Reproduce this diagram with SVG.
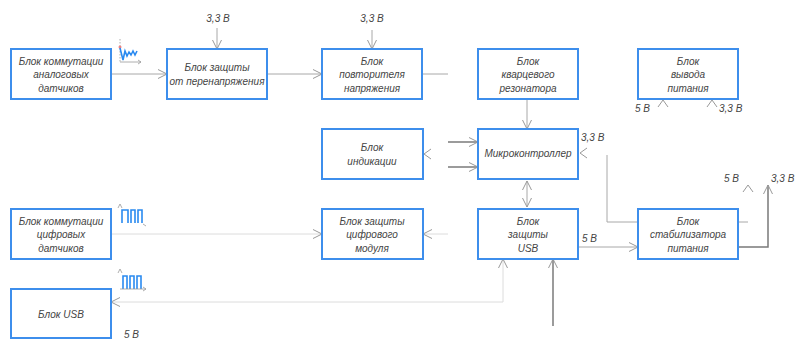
<svg xmlns="http://www.w3.org/2000/svg" width="796" height="340" viewBox="0 0 796 340">
<defs>
<style>
.box{fill:#fff;stroke:#3d8eec;stroke-width:2}
.t{font-family:"Liberation Sans",Arial,sans-serif;font-style:italic;font-size:10px;fill:#444;text-anchor:middle}
.l{font-family:"Liberation Sans",Arial,sans-serif;font-style:italic;font-size:10px;fill:#444}
.c{fill:none;stroke:#a8a8a8;stroke-width:1}
.cl{fill:none;stroke:#dcdcdc;stroke-width:1}
.cd{fill:none;stroke:#7a7a7a;stroke-width:1.5}
.ch{fill:none;stroke:#999;stroke-width:1}
.sig{fill:none;stroke:#2a8af0;stroke-width:1.6}
.ax{fill:none;stroke:#999;stroke-width:0.8}
</style>
<marker id="a" viewBox="0 0 10 10" refX="10" refY="5" markerWidth="10" markerHeight="10" markerUnits="userSpaceOnUse" orient="auto-start-reverse">
<path d="M1,0.5 L10,5 L1,9.5" fill="none" stroke="#999" stroke-width="1"/>
</marker>
</defs>

<g id="connectors">
<path class="c" d="M111,74 H167" marker-end="url(#a)"/>
<path class="c" d="M267,74 H322" marker-end="url(#a)"/>
<path class="c" d="M217,28 V49" marker-end="url(#a)"/>
<path class="c" d="M372,30 V49" marker-end="url(#a)"/>
<path class="c" d="M422,74 H448"/>
<path class="c" d="M527,99 V129" marker-end="url(#a)"/>
<path class="cd" d="M448,142 H478" marker-end="url(#a)"/>
<path class="cd" d="M448,167 H478" marker-end="url(#a)"/>
<path class="ch" d="M431,149 L424,154 L431,159"/>
<path class="ch" d="M587,148 L580,153 L587,158"/>
<path class="c" d="M607,155 V222 H638"/>
<path class="c" d="M738,222 H748"/>
<path class="cd" d="M738,247 H768 V185" marker-end="url(#a)"/>
<path class="ch" d="M743,192 L748,185 L753,192"/>
<path class="c" d="M578,247 H638" marker-end="url(#a)"/>
<path class="c" d="M527,181 V207" marker-start="url(#a)" marker-end="url(#a)"/>
<path class="cl" d="M111,234 H322" marker-end="url(#a)"/>
<path class="cl" d="M448,234 H423" marker-end="url(#a)"/>
<path class="cl" d="M503,302 H111" marker-end="url(#a)"/>
<path class="cl" d="M503,302 V259" marker-end="url(#a)"/>
<path class="cd" d="M553,326 V259" marker-end="url(#a)"/>
<path class="ch" d="M658,107 L663,100 L668,107"/>
<path class="ch" d="M707,107 L712,100 L717,107"/>
</g>

<g id="labels">
<text class="t" x="218" y="22">3,3 В</text>
<text class="t" x="372" y="22">3,3 В</text>
<text class="l" x="635" y="112">5 В</text>
<text class="l" x="719" y="112">3,3 В</text>
<text class="l" x="581" y="141">3,3 В</text>
<text class="l" x="724" y="182">5 В</text>
<text class="l" x="771" y="182">3,3 В</text>
<text class="l" x="582" y="242">5 В</text>
<text class="l" x="124" y="338">5 В</text>
</g>

<g id="signals">
<path class="ax" stroke-dasharray="1.5,1.5" d="M120,39 V62"/>
<circle cx="120" cy="47" r="1.5" fill="#f08080"/>
<path class="sig" d="M120,48 L123,60 L125,51 L127,56 L129,52 L131,55 L133,51 L135,55 L137,51"/>
<path class="ax" d="M120,62 H141 M138,60 L141,62 L138,64"/>
<path class="ax" d="M118,208 L120,204 L122,208"/>
<path class="sig" d="M122,223 V210 H128 V223 M131,223 V210 H135 V223 M138,223 V210 H142 V223"/>
<path class="ax" d="M143,224 L146,226"/>
<path class="ax" d="M118,273 L120,269 L122,273"/>
<path class="sig" d="M123,289 V276 H127 V289 M130,289 V276 H134 V289 M137,289 V276 H141 V289"/>
<path class="ax" d="M120,289 H146 M143,287 L146,289 L143,291"/>
</g>

<g id="n1"><rect class="box" x="11" y="49" width="100" height="50"/>
<text class="t" x="61" y="65">Блок коммутации</text><text class="t" x="61" y="78">аналоговых</text><text class="t" x="61" y="92">датчиков</text></g>
<g id="n2"><rect class="box" x="167" y="49" width="100" height="50"/>
<text class="t" x="217" y="71">Блок защиты</text><text class="t" x="217" y="85">от перенапряжения</text></g>
<g id="n3"><rect class="box" x="322" y="49" width="100" height="50"/>
<text class="t" x="372" y="65">Блок</text><text class="t" x="372" y="78">повторителя</text><text class="t" x="372" y="92">напряжения</text></g>
<g id="n4"><rect class="box" x="478" y="49" width="100" height="50"/>
<text class="t" x="528" y="65">Блок</text><text class="t" x="528" y="78">кварцевого</text><text class="t" x="528" y="92">резонатора</text></g>
<g id="n5"><rect class="box" x="638" y="49" width="100" height="50"/>
<text class="t" x="688" y="65">Блок</text><text class="t" x="688" y="78">вывода</text><text class="t" x="688" y="92">питания</text></g>
<g id="n6"><rect class="box" x="322" y="129" width="101" height="50"/>
<text class="t" x="372" y="151">Блок</text><text class="t" x="372" y="165">индикации</text></g>
<g id="n7"><rect class="box" x="478" y="129" width="100" height="50"/>
<text class="t" x="528" y="157">Микроконтроллер</text></g>
<g id="n8"><rect class="box" x="11" y="209" width="100" height="50"/>
<text class="t" x="61" y="225">Блок коммутации</text><text class="t" x="61" y="238">цифровых</text><text class="t" x="61" y="252">датчиков</text></g>
<g id="n9"><rect class="box" x="322" y="209" width="101" height="50"/>
<text class="t" x="372" y="225">Блок защиты</text><text class="t" x="372" y="238">цифрового</text><text class="t" x="372" y="252">модуля</text></g>
<g id="n10"><rect class="box" x="478" y="209" width="100" height="50"/>
<text class="t" x="528" y="225">Блок</text><text class="t" x="528" y="238">защиты</text><text class="t" x="528" y="252">USB</text></g>
<g id="n11"><rect class="box" x="638" y="209" width="100" height="50"/>
<text class="t" x="688" y="225">Блок</text><text class="t" x="688" y="238">стабилизатора</text><text class="t" x="688" y="252">питания</text></g>
<g id="n12"><rect class="box" x="11" y="289" width="100" height="49"/>
<text class="t" x="61" y="318">Блок USB</text></g>
</svg>
